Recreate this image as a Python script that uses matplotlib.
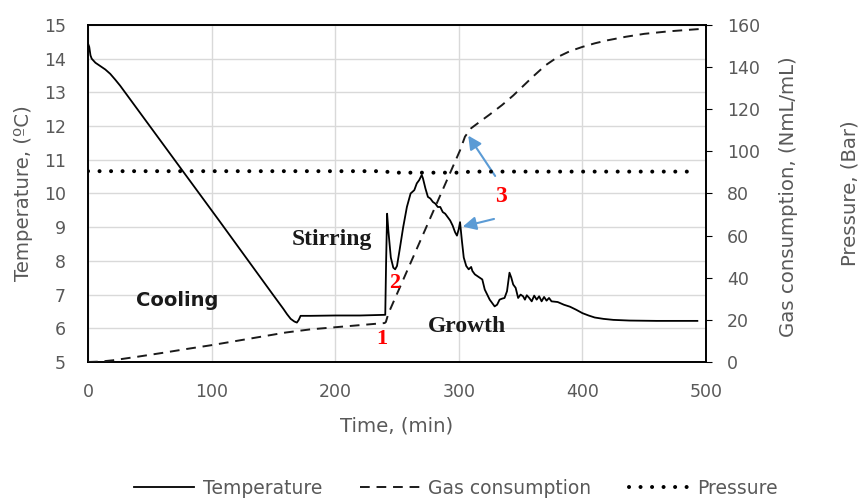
import matplotlib
matplotlib.use("Agg")
import matplotlib.pyplot as plt

# ---------------- data ----------------
temp_time = [0, 1, 2, 3, 6, 10, 14, 18, 22, 26, 60, 107, 150, 158, 161, 164, 167, 169,
             170.5, 172, 180, 200, 220, 240.5, 241.2, 242, 243, 245, 247, 248.5, 250,
             252, 255, 258, 261, 264, 266, 268, 270, 271, 273, 275, 277, 279, 281, 283,
             285, 287, 289, 291, 293, 295, 297, 298.5, 300, 301, 302.5, 304, 306, 308,
             310, 311, 313, 315, 317, 319, 321, 323, 325, 327, 329, 331, 333, 335, 337,
             339, 341, 342.5, 344, 346, 348, 350, 352, 353.5, 355, 357, 359, 361, 363,
             365, 367, 369, 371, 373, 375, 380, 385, 390, 395, 400, 405, 410, 417, 425,
             438, 460, 480, 493]
temperature = [14.45, 14.35, 14.1, 14.0, 13.88, 13.78, 13.68, 13.55, 13.38, 13.2, 11.5,
               9.15, 6.98, 6.58, 6.42, 6.28, 6.2, 6.17, 6.25, 6.37, 6.37, 6.38, 6.38, 6.4,
               8.0, 9.4, 8.9, 8.1, 7.8, 7.75, 7.85, 8.3, 9.0, 9.6, 10.0, 10.1, 10.3, 10.4,
               10.55, 10.45, 10.15, 9.9, 9.85, 9.75, 9.7, 9.6, 9.6, 9.45, 9.4, 9.3, 9.2,
               9.05, 8.85, 8.75, 8.95, 9.15, 8.6, 8.1, 7.85, 7.75, 7.82, 7.7, 7.6, 7.55,
               7.5, 7.45, 7.15, 7.0, 6.85, 6.75, 6.65, 6.7, 6.85, 6.88, 6.9, 7.1, 7.65,
               7.5, 7.3, 7.2, 6.9, 7.0, 6.95, 6.85, 6.98, 6.9, 6.8, 6.97, 6.85, 6.95, 6.8,
               6.93, 6.82, 6.9, 6.8, 6.78, 6.7, 6.64, 6.55, 6.45, 6.38, 6.32, 6.28, 6.25,
               6.23, 6.22, 6.22, 6.22]

gas_time = [0, 10, 20, 40, 60, 80, 100, 120, 140, 160, 180, 200, 220, 240, 241, 243,
            301, 305, 310, 318, 325, 335, 344, 352, 360, 370, 380, 390, 400, 410, 420,
            435, 450, 470, 495, 500]
gas_consumption = [0, 0.2, 0.8, 2.5, 4.3, 6.2, 8.0, 10.0, 12.0, 14.0, 15.5, 16.5, 17.5,
                   18.5, 19.0, 23.0, 100.5, 107.0, 111.0, 114.5, 117.5, 122.0, 126.5,
                   131.0, 135.5, 140.8, 144.8, 147.6, 149.6, 151.3, 152.7, 154.4, 155.8,
                   157.0, 158.1, 158.3]

pressure_time = [0, 240, 245, 300, 310, 492]
pressure = [90.6, 90.6, 89.9, 89.9, 90.4, 90.4]

x_ticks = [0, 100, 200, 300, 400, 500]
temp_ticks = [5, 6, 7, 8, 9, 10, 11, 12, 13, 14, 15]
gas_ticks = [0, 20, 40, 60, 80, 100, 120, 140, 160]

# ---------------- figure ----------------
FONT = "DejaVu Sans"
TICK_COLOR = "#595959"
plt.rcParams["font.family"] = [FONT]

W, H = 861, 500
fig = plt.figure(figsize=(W / 100, H / 100), dpi=100)
ax = fig.add_axes([88 / W, 1 - 362 / H, (706 - 88) / W, (362 - 25) / H])
ax2 = ax.twinx()

ax.set_xlim(0, 500)
ax.set_ylim(5, 15)
ax2.set_ylim(0, 160)
ax.set_xticks(x_ticks)
ax.set_yticks(temp_ticks)
ax2.set_yticks(gas_ticks)

ax.grid(True, color="#d9d9d9", linewidth=1.0)
ax.set_axisbelow(True)

l_temp, = ax.plot(temp_time, temperature, color="black", linewidth=1.3,
                  label="Temperature", zorder=3)
l_gas, = ax2.plot(gas_time, gas_consumption, color="#1a1a1a", linewidth=1.4,
                  linestyle=(0, (5, 3.5)), label="Gas consumption", zorder=3)
l_p, = ax2.plot(pressure_time, pressure, color="black", linewidth=2.9,
                linestyle=(0, (0.01, 2.85)), dash_capstyle="round",
                label="Pressure", zorder=3)

for a in (ax, ax2):
    for s in a.spines.values():
        s.set_color("black")
        s.set_linewidth(1.2)

ax.tick_params(axis="x", length=0, labelsize=12.5, labelcolor=TICK_COLOR, pad=15)
ax.tick_params(axis="y", length=0, labelsize=12.5, labelcolor=TICK_COLOR, pad=16)
ax2.tick_params(axis="y", length=4, direction="out", color="black",
                labelsize=12.5, labelcolor=TICK_COLOR, pad=11)

LABEL_SIZE = 14.2
fig.text(397 / W, 1 - 426 / H, "Time, (min)", fontsize=LABEL_SIZE, color=TICK_COLOR,
         ha="center", va="center")
fig.text(24 / W, 1 - 193 / H, "Temperature, (ºC)", rotation=90, fontsize=LABEL_SIZE,
         color=TICK_COLOR, ha="center", va="center")
fig.text(788 / W, 1 - 197 / H, "Gas consumption, (NmL/mL)", rotation=90,
         fontsize=LABEL_SIZE, color=TICK_COLOR, ha="center", va="center")
fig.text(850 / W, 1 - 193 / H, "Pressure, (Bar)", rotation=90, fontsize=LABEL_SIZE,
         color=TICK_COLOR, ha="center", va="center")

# annotations (phase labels)
serif = ["Liberation Serif", "DejaVu Serif"]
fig.text(177 / W, 1 - 301 / H, "Cooling", fontsize=14, fontweight="bold",
         family=["DejaVu Sans"], color="#1a1a1a", ha="center", va="center")
fig.text(332 / W, 1 - 239 / H, "Stirring", fontsize=17, fontweight="bold",
         family=serif, color="#1a1a1a", ha="center", va="center")
fig.text(467 / W, 1 - 327 / H, "Growth", fontsize=17, fontweight="bold",
         family=serif, color="#1a1a1a", ha="center", va="center")

for txt, (px, py), fs in [("1", (382, 339), 16), ("2", (395, 283), 16),
                          ("3", (501, 196), 17)]:
    fig.text(px / W, 1 - py / H, txt, fontsize=fs, fontweight="bold",
             family=serif, color="red", ha="center", va="center")

arrow_kw = dict(arrowstyle="-|>,head_length=0.8,head_width=0.4", color="#5b9bd5",
                linewidth=1.5)
ax.annotate("", xy=(466.7 / W, 1 - 133.3 / H), xycoords="figure fraction",
            xytext=(496.7 / W, 1 - 178.3 / H), textcoords="figure fraction",
            arrowprops=arrow_kw)
ax.annotate("", xy=(460 / W, 1 - 227.3 / H), xycoords="figure fraction",
            xytext=(496.7 / W, 1 - 218.3 / H), textcoords="figure fraction",
            arrowprops=arrow_kw)

fig.legend(handles=[l_temp, l_gas, l_p], loc="center",
           bbox_to_anchor=(456 / W, 1 - 488 / H), ncol=3, frameon=False,
           fontsize=13.5, labelcolor=TICK_COLOR, handlelength=3.2,
           columnspacing=2.0, handletextpad=0.45)

fig.savefig("out.png", dpi=100)
